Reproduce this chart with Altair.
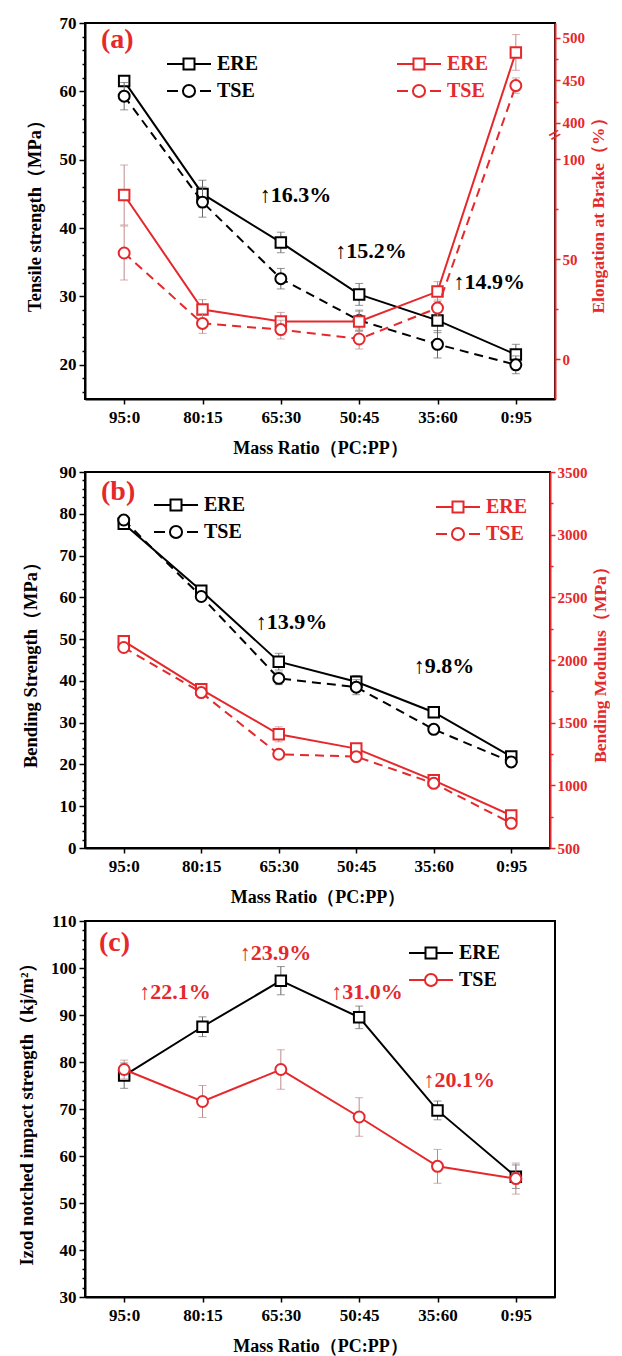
import altair as alt
import pandas as pd

cats = ["95:0", "80:15", "65:30", "50:45", "35:60", "0:95"]

# (a) tensile strength (MPa)
a_ts_ere = [61.5, 45.0, 37.9, 30.3, 26.5, 21.5]
a_ts_ere_err = [0.6, 2.0, 1.5, 1.6, 1.8, 1.5]
a_ts_tse = [59.3, 43.8, 32.6, 26.5, 23.0, 20.0]
a_ts_tse_err = [2.0, 2.2, 1.5, 1.5, 2.0, 1.3]
# (a) elongation at break (%)
a_el_ere = [82, 24.7, 18.8, 18.8, 33.7, 483]
a_el_ere_err = [15, 5, 4.5, 5, 5, 21]
a_el_tse = [53, 17.8, 14.7, 10, 25.5, 444]
a_el_tse_err = [13.5, 5, 4.7, 5, 4, 9]

# (b) bending strength (MPa)
b_bs_ere = [77.6, 61.6, 44.6, 39.8, 32.5, 21.9]
b_bs_ere_err = [0.5, 0.8, 2.0, 1.5, 1.0, 0.8]
b_bs_tse = [78.5, 60.2, 40.6, 38.5, 28.4, 20.6]
b_bs_tse_err = [0.5, 0.8, 1.5, 1.8, 1.0, 1.0]
# (b) bending modulus (MPa)
b_bm_ere = [2150, 1766, 1407, 1293, 1040, 760]
b_bm_ere_err = [30, 30, 60, 40, 40, 30]
b_bm_tse = [2100, 1740, 1248, 1229, 1016, 697]
b_bm_tse_err = [30, 30, 30, 40, 30, 30]

# (c) Izod notched impact strength (kJ/m2)
c_ere = [77.1, 87.5, 97.3, 89.5, 69.7, 55.6]
c_ere_err = [2.7, 2.1, 3.0, 2.4, 2.0, 2.5]
c_tse = [78.4, 71.6, 78.4, 68.3, 57.8, 55.2]
c_tse_err = [2.0, 3.4, 4.2, 4.1, 3.6, 3.3]

# annotations: (anchor category, value, text, dx)
a_notes = [("65:30", 44.9, "↑16.3%", -21), ("50:45", 36.6, "↑15.2%", -24), ("35:60", 32.1, "↑14.9%", 16)]
b_notes = [("65:30", 54.1, "↑13.9%", -23), ("35:60", 43.6, "↑9.8%", -20)]
c_notes = [("95:0", 94.9, "↑22.1%", 15), ("65:30", 103.2, "↑23.9%", -41),
           ("50:45", 94.9, "↑31.0%", -28), ("35:60", 76.1, "↑20.1%", -14)]

RED = "#e5282c"
RED_ERR = "#c08a8a"
BLK_ERR = "#666666"
FONT = "Liberation Serif"
W = 470
H = 376

SQ_PATH = "M-2,0H-0.5M0.5,0H2M-0.5,-0.5H0.5V0.5H-0.5Z"
CI_DASH_PATH = "M-2,0H-1M1,0H2M0.55,0A0.55,0.55 0 1,1 -0.55,0A0.55,0.55 0 1,1 0.55,0"
CI_SOLID_PATH = "M-2,0H-0.55M0.55,0H2M0.55,0A0.55,0.55 0 1,1 -0.55,0A0.55,0.55 0 1,1 0.55,0"


def sdf(vals, errs, name):
    return pd.DataFrame({
        "cat": cats,
        "val": vals,
        "lo": [v - e for v, e in zip(vals, errs)],
        "hi": [v + e for v, e in zip(vals, errs)],
        "series": name,
    })


xscale = alt.Scale(type="point", padding=0.5)
xaxis = alt.Axis(title="Mass Ratio（PC:PP）", labelAngle=0, tickSize=5, labelPadding=5,
                 titlePadding=14, titleFontSize=18)
X = alt.X("cat:N", sort=cats, scale=xscale, axis=xaxis)


def left_axis(title, vals, ext):
    return alt.Axis(
        title=title, values=vals, orient="left",
        labelExpr="datum.value % 10 == 0 ? datum.label : ''",
        tickSize={"condition": {"test": "datum.value % 10 == 0", "value": 6}, "value": 3},
        minExtent=ext, maxExtent=ext, titlePadding=13, labelPadding=3,
    )


def right_axis(title, vals, major, ext, pad):
    return alt.Axis(
        title=title, values=vals, orient="right", format="d",
        labelExpr=f"datum.value % {major} == 0 ? datum.label : ''",
        tickSize={"condition": {"test": f"datum.value % {major} == 0", "value": 5}, "value": 3},
        domainColor=RED, tickColor=RED, labelColor=RED, titleColor=RED,
        labelFontSize=15, titleFontSize=17.5, titleAngle=270, titlePadding=pad, labelPadding=2,
        minExtent=ext, maxExtent=ext,
    )


def series_layers(df, color, shape, dash, yscale, yaxis, errcolor, size):
    base = alt.Chart(df)
    Y = alt.Y("val:Q", scale=yscale, axis=yaxis)
    Ylo = alt.Y("lo:Q", scale=yscale, axis=yaxis)
    Yhi = alt.Y("hi:Q", scale=yscale, axis=yaxis)
    rule = base.mark_rule(color=errcolor, strokeWidth=1).encode(x=X, y=Ylo, y2="hi:Q")
    cap_lo = base.mark_tick(color=errcolor, thickness=1, size=8).encode(x=X, y=Ylo)
    cap_hi = base.mark_tick(color=errcolor, thickness=1, size=8).encode(x=X, y=Yhi)
    lkw = dict(color=color, strokeWidth=2)
    if dash:
        lkw["strokeDash"] = dash
    line = base.mark_line(**lkw).encode(x=X, y=Y)
    pts = base.mark_point(shape=shape, size=size, filled=True, fill="white", stroke=color,
                          strokeWidth=2, opacity=1).encode(x=X, y=Y)
    return [rule, cap_lo, cap_hi, line, pts]


def legend_layer(df, yscale, yaxis, paths, lx, ly, color, label_color):
    leg = alt.Legend(orient="none", legendX=lx, legendY=ly, title=None, symbolSize=484,
                     symbolStrokeWidth=2, symbolOpacity=1, symbolStrokeColor=color,
                     labelFont=FONT, labelFontSize=20, labelFontWeight="bold",
                     labelColor=label_color, labelOffset=16, rowPadding=5, padding=0)
    return alt.Chart(df).mark_point(opacity=0, filled=False, color=color).encode(
        x=X, y=alt.Y("val:Q", scale=yscale, axis=yaxis),
        shape=alt.Shape("series:N", scale=alt.Scale(domain=["ERE", "TSE"], range=paths), legend=leg),
    )


def note_layers(notes, yscale, yaxis, color):
    out = []
    for cat, v, t, dx in notes:
        d = pd.DataFrame({"cat": [cat], "val": [v], "t": [t]})
        out.append(alt.Chart(d).mark_text(font=FONT, fontSize=22, fontWeight="bold", align="left",
                                          baseline="middle", color=color, dx=dx).encode(
            x=X, y=alt.Y("val:Q", scale=yscale, axis=yaxis), text="t:N"))
    return out


def panel_label(txt, px, py):
    return alt.Chart(pd.DataFrame({"t": [txt]})).mark_text(
        font=FONT, fontSize=28, fontWeight="bold", color=RED, align="left", baseline="middle"
    ).encode(text="t:N", x=alt.value(px), y=alt.value(py))


# ---------- panel (a) ----------
ya = alt.Scale(domain=[15, 70], nice=False, zero=False)
ya_ax = left_axis("Tensile strength（MPa）", list(range(16, 71, 2)), 28)
yar = alt.Scale(domain=[-20, 106, 388, 517.6], range=[H, 124, 110.2, 0], nice=False, zero=False)
yar_ax = right_axis("Elongation at Brake（%）", [0, 25, 50, 75, 100, 400, 425, 450, 475, 500], 50, 30, 22)

df_a1 = sdf(a_ts_ere, a_ts_ere_err, "ERE")
df_a2 = sdf(a_ts_tse, a_ts_tse_err, "TSE")
df_a3 = sdf(a_el_ere, a_el_ere_err, "ERE")
df_a4 = sdf(a_el_tse, a_el_tse_err, "TSE")

blk_a = (series_layers(df_a1, "black", "square", None, ya, ya_ax, BLK_ERR, 110)
         + series_layers(df_a2, "black", "circle", [9, 6], ya, ya_ax, BLK_ERR, 120)
         + [legend_layer(pd.concat([df_a1, df_a2]), ya, ya_ax, [SQ_PATH, CI_DASH_PATH], 92, 29, "black", "black")]
         + note_layers(a_notes, ya, ya_ax, "black")
         + [panel_label("(a)", 16, 17)])
brk = alt.Chart(pd.DataFrame({"val": [350]})).mark_text(
    text="=", angle=330, fontSize=22, fontWeight="bold", color=RED, font=FONT
).encode(x=alt.value(W), y=alt.Y("val:Q", scale=yar, axis=yar_ax))
red_a = (series_layers(df_a3, RED, "square", None, yar, yar_ax, RED_ERR, 110)
         + series_layers(df_a4, RED, "circle", [9, 6], yar, yar_ax, RED_ERR, 120)
         + [legend_layer(pd.concat([df_a3, df_a4]), yar, yar_ax, [SQ_PATH, CI_DASH_PATH], 322, 29, RED, RED), brk])
panel_a = alt.layer(alt.layer(*blk_a), alt.layer(*red_a)).resolve_scale(
    y="independent", shape="independent").properties(width=W, height=H)

# ---------- panel (b) ----------
WB = 465
yb = alt.Scale(domain=[0, 90], nice=False, zero=False)
yb_ax = left_axis("Bending Strength（MPa）", list(range(0, 91, 2)), 32)
ybr = alt.Scale(domain=[500, 3500], nice=False, zero=False)
ybr_ax = right_axis("Bending Modulus（MPa）", list(range(500, 3501, 250)), 500, 40, 19)

df_b1 = sdf(b_bs_ere, b_bs_ere_err, "ERE")
df_b2 = sdf(b_bs_tse, b_bs_tse_err, "TSE")
df_b3 = sdf(b_bm_ere, b_bm_ere_err, "ERE")
df_b4 = sdf(b_bm_tse, b_bm_tse_err, "TSE")

blk_b = (series_layers(df_b1, "black", "square", None, yb, yb_ax, BLK_ERR, 110)
         + series_layers(df_b2, "black", "circle", [9, 6], yb, yb_ax, BLK_ERR, 120)
         + [legend_layer(pd.concat([df_b1, df_b2]), yb, yb_ax, [SQ_PATH, CI_DASH_PATH], 79, 21, "black", "black")]
         + note_layers(b_notes, yb, yb_ax, "black")
         + [panel_label("(b)", 16, 20)])
red_b = (series_layers(df_b3, RED, "square", None, ybr, ybr_ax, RED_ERR, 110)
         + series_layers(df_b4, RED, "circle", [9, 6], ybr, ybr_ax, RED_ERR, 120)
         + [legend_layer(pd.concat([df_b3, df_b4]), ybr, ybr_ax, [SQ_PATH, CI_DASH_PATH], 361, 23, RED, RED)])
panel_b = alt.layer(alt.layer(*blk_b), alt.layer(*red_b)).resolve_scale(
    y="independent", shape="independent").properties(width=WB, height=H)

# ---------- panel (c) ----------
yc = alt.Scale(domain=[30, 110], nice=False, zero=False)
yc_ax = left_axis("Izod notched impact strength（kj/m²）", list(range(30, 111, 2)), 36)
df_c1 = sdf(c_ere, c_ere_err, "ERE")
df_c2 = sdf(c_tse, c_tse_err, "TSE")
leg_c = alt.Legend(orient="none", legendX=334, legendY=20, title=None, symbolSize=484,
                   symbolStrokeWidth=2, symbolOpacity=1,
                   labelFont=FONT, labelFontSize=20, labelFontWeight="bold",
                   labelColor="black", labelOffset=16, rowPadding=5, padding=0)
legend_c = alt.Chart(pd.concat([df_c1, df_c2])).mark_point(opacity=0, filled=False).encode(
    x=X, y=alt.Y("val:Q", scale=yc, axis=yc_ax),
    shape=alt.Shape("series:N", scale=alt.Scale(domain=["ERE", "TSE"], range=[SQ_PATH, CI_SOLID_PATH]), legend=leg_c),
    color=alt.Color("series:N", scale=alt.Scale(domain=["ERE", "TSE"], range=["black", RED]), legend=leg_c),
)
lay_c = (series_layers(df_c1, "black", "square", None, yc, yc_ax, BLK_ERR, 110)
         + series_layers(df_c2, RED, "circle", None, yc, yc_ax, RED_ERR, 120)
         + [legend_c]
         + note_layers(c_notes, yc, yc_ax, RED)
         + [panel_label("(c)", 14, 22)])
panel_c = alt.layer(*lay_c).properties(width=W, height=H)

chart = alt.vconcat(panel_a, panel_b, panel_c, spacing=4).resolve_scale(
    shape="independent", color="independent"
).properties(
    padding={"left": 8, "top": 5, "right": 0, "bottom": 0}
).configure_view(stroke="black", strokeWidth=2).configure_axis(
    labelFont=FONT, labelFontWeight="bold", labelFontSize=17, labelColor="black",
    titleFont=FONT, titleFontWeight="bold", titleFontSize=18.5, titleColor="black",
    domainWidth=2, domainColor="black", tickWidth=1.5, tickColor="black", grid=False,
)

chart.save("out.html", embed_options={"renderer": "svg", "actions": False})
